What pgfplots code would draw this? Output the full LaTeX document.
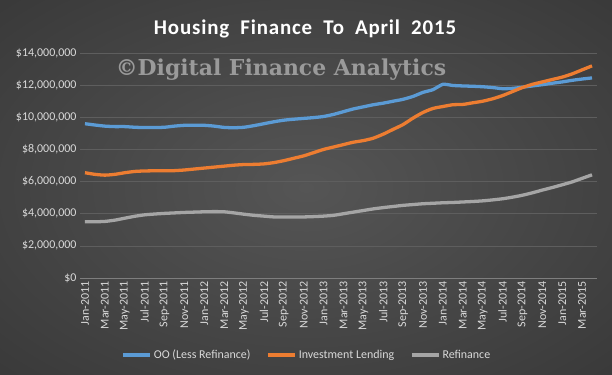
\documentclass[border=0pt]{standalone}
\usepackage{fontspec}
\setmainfont{Carlito}
\newfontfamily\wmfont{DejaVu Serif}
\usepackage{pgfplots}
\usepackage{pgfplotstable}
\pgfplotsset{compat=1.18}

\definecolor{oo}{HTML}{5B9BD5}
\definecolor{inv}{HTML}{ED7D31}
\definecolor{refi}{HTML}{A5A5A5}
\definecolor{bgA}{HTML}{555555}
\definecolor{bgB}{HTML}{363636}
\definecolor{bgC}{HTML}{202020}
\definecolor{tick}{HTML}{D9D9D9}
\definecolor{grid}{HTML}{5E5E5E}
\definecolor{wm}{HTML}{9A9A9A}
\pgfdeclareradialshading{bgshade}{\pgfpoint{0bp}{0bp}}{color(0bp)=(bgA); color(40bp)=(bgB); color(71bp)=(bgC)}

\pgfplotstableread{
i oo inv ref
0 9.60 6.55 3.50
1 9.52 6.45 3.50
2 9.45 6.40 3.52
3 9.42 6.45 3.60
4 9.42 6.55 3.72
5 9.38 6.63 3.84
6 9.36 6.66 3.93
7 9.36 6.67 3.98
8 9.38 6.67 4.02
9 9.45 6.68 4.05
10 9.50 6.72 4.08
11 9.50 6.78 4.10
12 9.50 6.84 4.12
13 9.45 6.90 4.13
14 9.37 6.96 4.12
15 9.35 7.02 4.05
16 9.38 7.06 3.97
17 9.48 7.07 3.90
18 9.60 7.10 3.85
19 9.72 7.18 3.80
20 9.82 7.30 3.80
21 9.88 7.45 3.80
22 9.93 7.60 3.80
23 9.98 7.80 3.82
24 10.05 8.00 3.85
25 10.18 8.15 3.90
26 10.35 8.30 4.00
27 10.52 8.45 4.10
28 10.65 8.55 4.20
29 10.78 8.70 4.30
30 10.88 8.95 4.38
31 11.00 9.25 4.45
32 11.12 9.55 4.52
33 11.30 9.95 4.57
34 11.55 10.30 4.62
35 11.72 10.55 4.65
36 12.05 10.67 4.68
37 11.98 10.78 4.70
38 11.95 10.80 4.73
39 11.93 10.90 4.76
40 11.90 11.00 4.80
41 11.85 11.15 4.86
42 11.78 11.35 4.93
43 11.80 11.60 5.03
44 11.87 11.85 5.15
45 11.95 12.05 5.30
46 12.03 12.20 5.47
47 12.12 12.35 5.63
48 12.20 12.50 5.80
49 12.30 12.70 5.98
50 12.38 12.95 6.20
51 12.45 13.20 6.42
}\data

\begin{document}
\begin{tikzpicture}
\shade[shading=bgshade] (0bp,0bp) rectangle (612bp,375bp);
\useasboundingbox (0bp,0bp) rectangle (612bp,375bp);
\node[text=white, font=\addfontfeature{LetterSpace=4}\bfseries\fontsize{21}{24}\selectfont] at (305bp,346bp) {Housing~ Finance~ To~ April~ 2015};
\node[text=wm, font=\wmfont\bfseries\fontsize{22}{26}\selectfont] at (281bp,305bp) {©Digital Finance Analytics};
\begin{axis}[
  at={(80bp,97bp)}, anchor=south west,
  width=517bp, height=225bp, scale only axis,
  xmin=-0.5, xmax=51.5, ymin=0, ymax=14,
  axis lines*=left,
  y axis line style={draw=none},
  x axis line style={draw=grid!80!white, line width=0.8pt},
  major tick length=0pt,
  ymajorgrids, grid style={draw=grid, line width=0.6pt},
  ytick={0,2,...,14},
  yticklabels={\$0,{\$2,000,000},{\$4,000,000},{\$6,000,000},{\$8,000,000},{\$10,000,000},{\$12,000,000},{\$14,000,000}},
  xtick={0,2,...,50},
  xticklabels={Jan-2011,Mar-2011,May-2011,Jul-2011,Sep-2011,Nov-2011,Jan-2012,Mar-2012,May-2012,Jul-2012,Sep-2012,Nov-2012,Jan-2013,Mar-2013,May-2013,Jul-2013,Sep-2013,Nov-2013,Jan-2014,Mar-2014,May-2014,Jul-2014,Sep-2014,Nov-2014,Jan-2015,Mar-2015},
  x tick label style={rotate=90, anchor=east, font=\fontsize{12}{14}\selectfont, text=tick},
  y tick label style={font=\fontsize{12}{14}\selectfont, text=tick},
  legend columns=3,
  legend style={at={(0.439,-0.342)}, anchor=center, draw=none, fill=none, text=tick, font=\fontsize{12}{14}\selectfont, /tikz/every even column/.append style={column sep=14bp}},
  legend image code/.code={\draw[#1] (0bp,0bp) -- (27bp,0bp);},
  every axis plot/.append style={line width=3.3pt, smooth, tension=0.4},
]
\addplot[oo] table[x=i, y=oo] {\data};
\addlegendentry{OO (Less Refinance)}
\addplot[inv] table[x=i, y=inv] {\data};
\addlegendentry{Investment Lending}
\addplot[refi] table[x=i, y=ref] {\data};
\addlegendentry{Refinance}
\end{axis}
\end{tikzpicture}
\end{document}
